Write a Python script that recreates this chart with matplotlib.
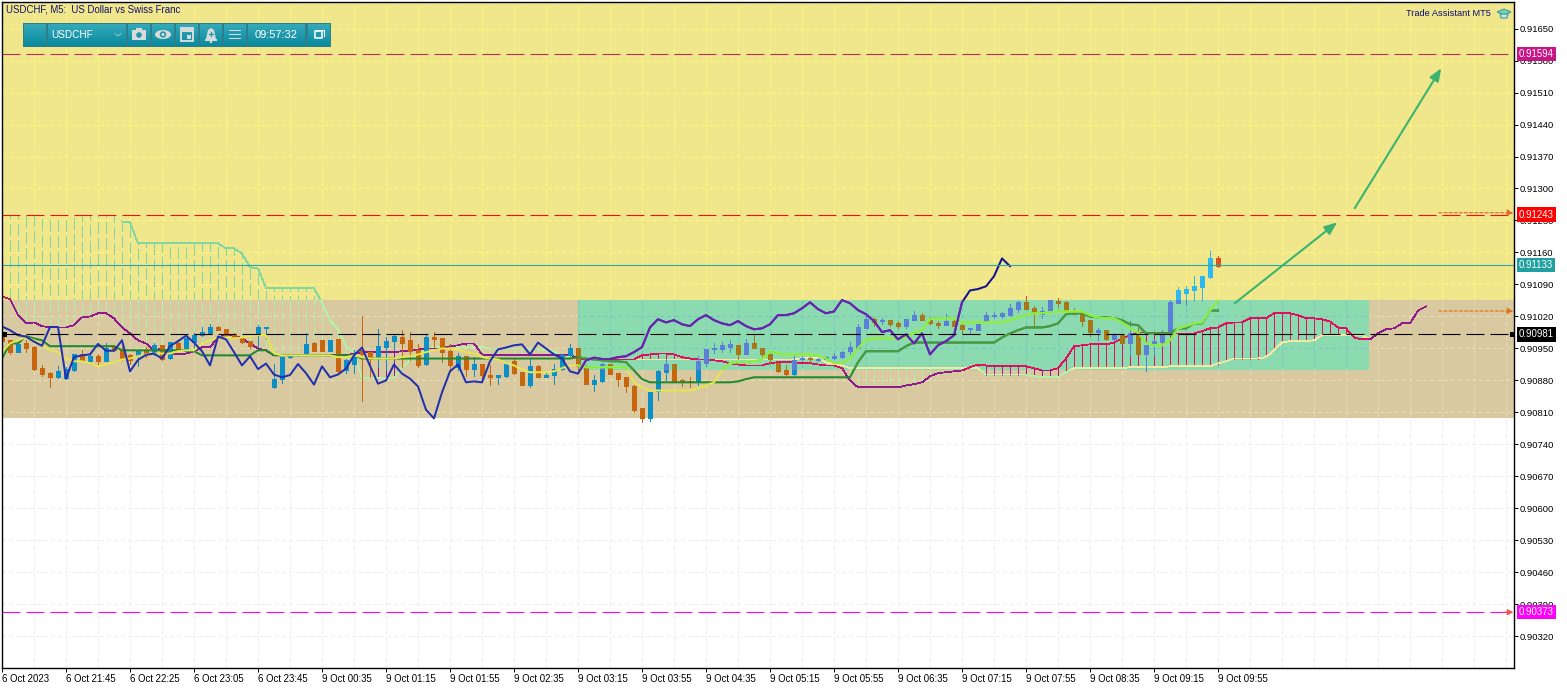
import numpy as np
import matplotlib
matplotlib.use("Agg")
import matplotlib.pyplot as plt
from matplotlib.patches import Rectangle, Circle, Ellipse, Polygon

plt.rcParams['font.family'] = ['Liberation Sans', 'DejaVu Sans']
plt.rcParams['lines.scale_dashes'] = False

# prices in 1e-5 units, one entry per 5 minute bar
opens = [90976,90968,90942,90963,90954,90907,90896,90887,90885,90903,
90938,90922,90933,90922,90954,90947,90936,90933,90945,90938,
90957,90930,90963,90945,90965,90979,90983,90998,90992,90979,
90972,90966,90982,90994,90865,90883,90931,90935,90938,90961,
90968,90945,90970,90903,90917,90947,90942,90932,90953,90966,
90976,90968,90946,90915,90976,90972,90944,90909,90933,90905,
90917,90891,90887,90889,90922,90898,90871,90911,90887,90891,
90906,90935,90952,90911,90873,90878,90915,90897,90887,90869,
90819,90797,90858,90898,90915,90882,90878,90876,90919,90948,
90948,90954,90957,90937,90963,90952,90939,90919,90902,90895,
90926,90929,90924,90927,90929,90931,90944,90950,90994,91014,
91010,91012,91005,90999,91012,91023,91013,91006,91001,91010,
91001,90992,90990,91007,91021,91021,91023,91036,91051,91038,
91025,91031,91053,91051,91031,91025,91012,90986,90990,90970,
90979,90961,90985,90937,90959,90964,90983,91049,91071,91077,
91084,91106,91147]
closes = [90967,90942,90960,90951,90905,90894,90887,90901,90905,90939,
90922,90933,90922,90950,90947,90926,90925,90945,90938,90957,
90927,90965,90947,90972,90979,90985,90998,90990,90979,90976,
90965,90956,90997,90997,90884,90931,90935,90937,90960,90945,
90945,90968,90900,90925,90936,90939,90928,90955,90966,90978,
90963,90944,90913,90976,90970,90942,90913,90933,90905,90917,
90893,90887,90892,90916,90896,90871,90911,90887,90893,90906,
90935,90952,90912,90873,90880,90915,90895,90884,90867,90816,
90797,90854,90900,90915,90876,90878,90876,90922,90948,90952,
90957,90959,90937,90963,90950,90937,90928,90900,90895,90924,
90930,90927,90927,90931,90933,90942,90953,90996,91014,91007,
91012,91003,90999,91014,91023,91012,91005,91001,91010,90999,
90992,90994,91003,91023,91023,91027,91038,91051,91036,91027,
91031,91056,91049,91034,91025,91010,90986,90990,90970,90981,
90961,90983,90937,90957,90966,90979,91051,91077,91080,91086,
91108,91147,91130]
highs = [90979,90968,90960,90968,90955,90914,90898,90911,90910,90939,
90946,90936,90939,90961,90957,90954,90939,90947,90954,90961,
90957,90965,90968,90972,90983,90998,91003,90999,90992,90983,
90973,90966,91001,90998,90917,90931,90937,90939,90983,90965,
90968,90968,90970,90926,90947,91021,90942,90992,90976,90979,
90991,90987,90959,90979,90985,90972,90959,90941,90933,90931,
90917,90913,90893,90920,90927,90898,90926,90913,90896,90917,
90937,90959,90952,90913,90893,90919,90917,90897,90887,90871,
90819,90854,90904,90926,90915,90884,90887,90933,90948,90963,
90965,90968,90957,90970,90979,90952,90939,90919,90913,90933,
90933,90931,90929,90933,90940,90944,90964,91003,91021,91018,
91016,91012,91010,91014,91031,91027,91018,91010,91026,91012,
91003,90994,91005,91029,91029,91029,91047,91054,91064,91042,
91040,91057,91060,91053,91038,91029,91012,90994,90990,90983,
90979,91010,90994,90964,90968,90990,91057,91084,91086,91108,
91108,91163,91152]
lows = [90965,90938,90942,90942,90903,90890,90866,90885,90883,90901,
90922,90920,90914,90922,90945,90925,90917,90911,90932,90936,
90925,90928,90945,90945,90947,90978,90982,90990,90976,90973,
90961,90951,90954,90970,90863,90875,90930,90933,90938,90945,
90945,90945,90898,90897,90897,90835,90888,90910,90903,90947,
90909,90924,90909,90913,90953,90920,90902,90902,90889,90889,
90876,90871,90873,90887,90895,90871,90865,90887,90887,90873,
90904,90933,90898,90873,90856,90876,90895,90869,90854,90812,
90790,90792,90838,90880,90876,90869,90865,90871,90911,90941,
90943,90943,90928,90937,90950,90933,90917,90898,90891,90893,
90923,90921,90922,90926,90927,90929,90937,90948,90994,90999,
91004,90999,90994,90994,91012,91012,91003,90994,91001,90999,
90983,90981,90990,91007,91016,91016,91021,91029,91036,90999,
91016,91031,91040,91034,91025,90999,90977,90968,90968,90968,
90961,90933,90937,90900,90935,90964,90983,91049,91045,91056,
91055,91104,91128]

tenkan = [90942,90961,90968,90974,90968,90957,90946,90942,90928,90922,
90922,90918,90911,90915,90920,90926,90928,90933,90937,90939,
90939,90939,90944,90946,90946,90961,90968,90974,90974,90972,
90974,90977,90979,90979,90939,90935,90935,90935,90935,90935,
90935,90935,90931,90931,90935,90931,90928,90928,90928,90928,
90931,90933,90937,90942,90946,90950,90950,90948,90942,90939,
90931,90928,90926,90918,90913,90904,90898,90898,90898,90900,
90907,90913,90913,90909,90909,90909,90909,90909,90909,90876,
90865,90858,90858,90858,90858,90858,90858,90863,90869,90876,
90902,90918,90920,90920,90922,90926,90944,90939,90937,90937,
90937,90937,90935,90928,90918,90918,90928,90950,90970,90972,
90972,90972,90972,90974,90985,90990,91014,91016,91016,91016,
91007,91007,91007,91007,91007,91007,91012,91018,91023,91027,
91027,91029,91031,91031,91031,91031,91023,91018,91016,91016,
91007,90994,90985,90961,90957,90957,90968,90994,90999,91005,
91007,91033,91055]
kijun = [90928,90961,90961,90977,90972,90968,90955,90955,90955,90955,
90955,90955,90955,90955,90955,90946,90946,90946,90946,90946,
90946,90946,90946,90946,90944,90935,90935,90935,90935,90935,
90935,90935,90946,90946,90935,90935,90935,90935,90935,90935,
90935,90935,90935,90935,90935,90928,90928,90928,90928,90928,
90928,90928,90928,90928,90928,90928,90928,90928,90928,90928,
90928,90928,90928,90928,90928,90928,90928,90928,90928,90928,
90928,90928,90931,90928,90926,90924,90922,90922,90920,90902,
90883,90876,90876,90876,90876,90876,90876,90876,90876,90876,
90876,90876,90878,90883,90887,90887,90887,90887,90887,90887,
90887,90887,90887,90887,90887,90887,90887,90920,90944,90944,
90944,90944,90944,90955,90963,90963,90963,90963,90963,90963,
90963,90963,90963,90963,90963,90974,90983,90990,90996,90996,
90996,90999,91005,91025,91027,91027,91020,91018,91018,91016,
91012,91003,91001,90983,90983,90983,90983,90994,90994,91005,
91005,91033,91033]
span_a = [91241,91241,91241,91241,91241,91241,91241,91241,91241,91241,
91241,91241,91241,91241,91241,91228,91226,91180,91180,91180,
91180,91180,91180,91180,91180,91180,91180,91180,91169,91169,
91158,91128,91125,91082,91082,91082,91082,91082,91082,91082,
91049,91012,90992,90955,90942,90885,90885,90885,90885,90885,
90909,90924,90937,90950,90953,90955,90955,90953,90953,90953,
90953,90950,90950,90950,90950,90950,90950,90950,90946,90944,
90935,90931,90928,90926,90926,90926,90926,90926,90926,90926,
90926,90926,90926,90926,90926,90926,90926,90926,90926,90926,
90926,90926,90926,90926,90926,90926,90926,90926,90926,90926,
90929,90929,90929,90920,90915,90913,90907,90907,90907,90907,
90907,90907,90907,90907,90907,90907,90907,90907,90907,90907,
90907,90907,90907,90893,90893,90893,90893,90893,90893,90889,
90887,90887,90887,90898,90907,90907,90907,90907,90907,90907,
90907,90909,90909,90909,90909,90909,90911,90911,90911,90911,
90911,90911,90917,90922,90928,90928,90928,90928,90931,90946,
90963,90966,90966,90966,90968,90979,90979,90979,90979,90979,
90979,90970,90983,90992,90994,91005,91005,91033,91042]
span_b = [91064,91058,91023,91005,91007,90999,90996,90996,90996,91001,
91018,91020,91027,91027,91016,90996,90983,90968,90961,90946,
90950,90939,90937,90939,90944,90953,90953,90974,90979,90979,
90972,90961,90950,90946,90935,90935,90935,90935,90935,90935,
90935,90935,90935,90935,90939,90942,90942,90942,90942,90942,
90944,90944,90948,90950,90950,90950,90955,90957,90961,90961,
90937,90935,90935,90935,90935,90935,90935,90935,90935,90935,
90935,90937,90928,90926,90926,90926,90926,90926,90926,90926,
90935,90937,90939,90939,90937,90931,90928,90926,90926,90924,
90922,90918,90915,90913,90913,90913,90918,90920,90920,90920,
90918,90918,90915,90913,90913,90907,90880,90865,90865,90865,
90865,90865,90865,90869,90872,90876,90889,90896,90898,90900,
90902,90909,90915,90913,90911,90911,90911,90911,90911,90907,
90902,90902,90907,90928,90955,90957,90959,90959,90959,90963,
90972,90979,90985,90985,90985,90985,90983,90983,90983,90983,
90988,90994,90996,91005,91007,91007,91016,91016,91016,91027,
91027,91027,91023,91016,91016,91014,91009,90996,90994,90974,
90970,90970,90983,90992,90994,91005,91005,91033,91042]

time_labels = ['6 Oct 2023','6 Oct 21:45','6 Oct 22:25','6 Oct 23:05','6 Oct 23:45',
               '9 Oct 00:35','9 Oct 01:15','9 Oct 01:55','9 Oct 02:35','9 Oct 03:15',
               '9 Oct 03:55','9 Oct 04:35','9 Oct 05:15','9 Oct 05:55','9 Oct 06:35',
               '9 Oct 07:15','9 Oct 07:55','9 Oct 08:35','9 Oct 09:15','9 Oct 09:55']
price_ticks = [91650,91580,91510,91440,91370,91300,91230,91160,91090,91020,
               90950,90880,90810,90740,90670,90600,90530,90460,90390,90320]

level_top = 91594
level_red = 91243
level_bid = 91133
level_black = 90981
level_magenta = 90373
zone_high = 91056
zone_low = 90797
rect_low = 90903
rect_start = 72
rect_end = 170.9

PX = 0.72  # one pixel in points at dpi 100
y_min, y_max = 90251, 91708
x_max = 189

fig = plt.figure(figsize=(15.67, 6.89), dpi=100, facecolor='white')
ax = fig.add_axes([2/1567, (689-668)/689, 1512/1567, 666/689])
ax.set_xlim(0, x_max)
ax.set_ylim(y_min, y_max)

# background blocks
ax.add_patch(Rectangle((0, zone_low), x_max, zone_high-zone_low, color='#D9C9A0', lw=0, zorder=0))
ax.add_patch(Rectangle((0, zone_high), x_max, y_max-zone_high, color='#F0E68C', lw=0, zorder=0))
ax.add_patch(Rectangle((rect_start, rect_low), rect_end-rect_start, zone_high-rect_low, color='#8CDBB0', lw=0, zorder=0.1))

# marks change colour with the block behind them, so each is drawn once per block
clip_low = Rectangle((0, y_min), x_max, zone_high-y_min, transform=ax.transData)
clip_tan = Rectangle((0, zone_low), x_max, zone_high-zone_low, transform=ax.transData)
clip_high = Rectangle((0, zone_high), x_max, y_max-zone_high, transform=ax.transData)
clip_rect = Rectangle((rect_start, rect_low), rect_end-rect_start, zone_high-rect_low, transform=ax.transData)
clips = [clip_low, clip_high, clip_rect]
grid_clips = [clip_tan, clip_high, clip_rect]

bars = np.arange(len(closes))
o = np.array(opens)
c = np.array(closes)
h = np.array(highs)
l = np.array(lows)
up = c >= o
body_top = np.maximum(o, c)
body_bot = np.minimum(o, c)
cloud_x = np.arange(len(span_a))
a = np.array(span_a, dtype=float)
b = np.array(span_b, dtype=float)
# the top edge of the cloud is not drawn while it sits flat on the red level
a_edge = a.copy()
a_edge[:15] = np.nan

grid_dash = (0, (2.88, 2.88))
hatch_dash = (0, (8.0, 3.0))
grid_cols = ['#E6DDB0', '#FFFB78', '#76C6C4']
up_cols = ['#0A8FC8', '#2DB8F0', '#5A80D8']
down_cols = ['#C8660F', '#E0501E', '#A87818']
hatch_up_cols = ['#B0F0A8', '#80D8A0', '#A8F0A0']
hatch_dn_cols = ['#8E1A8E', '#B02060', '#E01060']
a_cols = ['#B4F0A8', '#80D8A0', '#F5E8A0']
b_cols = ['#8E1A8E', '#B02060', '#E01060']
tenkan_cols = ['#E6E650', '#A8E040', '#80F040']
kijun_cols = ['#208830', '#4A9A40', '#4A9A40']
chikou_cols = ['#2030B0', '#101090', '#7020B0']

# grid on the white part
for v in price_ticks:
    ax.axhline(v, color='#EEEEEE', lw=PX, ls=grid_dash, zorder=0.05, antialiased=False)
for v in np.arange(0, x_max, 4):
    ax.axvline(v, color='#EEEEEE', lw=PX, ls=grid_dash, zorder=0.05, antialiased=False)

for k, clip in enumerate(clips):
    z = k * 0.01
    grid_arts = []
    for v in price_ticks:
        grid_arts.append(ax.axhline(v, color=grid_cols[k], lw=PX, ls=grid_dash, zorder=1+z, antialiased=False))
    for v in np.arange(0, x_max, 4):
        grid_arts.append(ax.axvline(v, color=grid_cols[k], lw=PX, ls=grid_dash, zorder=1+z, antialiased=False))
    for art in grid_arts:
        art.set_clip_path(grid_clips[k])

    arts = []
    # ichimoku cloud
    above = a > b
    arts.append(ax.vlines(cloud_x[above], b[above], a[above], color=hatch_up_cols[k], lw=PX,
                          linestyles=[hatch_dash], zorder=3+z, antialiased=False))
    arts.append(ax.vlines(cloud_x[~above], a[~above], b[~above], color=hatch_dn_cols[k], lw=PX, zorder=3+z, antialiased=False))
    arts += ax.plot(cloud_x, a_edge, color=a_cols[k], lw=0.55, zorder=3.1+z, antialiased=False)
    arts += ax.plot(cloud_x, b, color=b_cols[k], lw=0.55, zorder=3.1+z, antialiased=False)

    # candles
    arts.append(ax.vlines(bars[up], l[up], h[up], color=up_cols[k], lw=PX, zorder=4+z, antialiased=False))
    arts.append(ax.vlines(bars[~up], l[~up], h[~up], color=down_cols[k], lw=PX, zorder=4+z, antialiased=False))
    arts.append(ax.vlines(bars[up], body_bot[up], body_top[up], color=up_cols[k], lw=5*PX, zorder=4.1+z, antialiased=False))
    arts.append(ax.vlines(bars[~up], body_bot[~up], body_top[~up], color=down_cols[k], lw=5*PX, zorder=4.1+z, antialiased=False))

    # indicator lines
    arts += ax.plot(bars, kijun, color=kijun_cols[k], lw=2*PX, zorder=5+z)
    arts += ax.plot(bars, tenkan, color=tenkan_cols[k], lw=2*PX, zorder=5.5+z)
    # lagging span is the close moved back 26 bars
    arts += ax.plot(bars[:-26], closes[26:], color=chikou_cols[k], lw=2*PX, zorder=6+z)

    for art in arts:
        art.set_clip_path(clip)

# price levels
level_dash = (0, (18*PX, 6*PX))
ax.axhline(level_top, color='#B82C5A', lw=0.8, ls=level_dash, zorder=7)
ax.axhline(level_red, color='#F01010', lw=0.8, ls=level_dash, zorder=7)
ax.axhline(level_bid, color='#2AA8A8', lw=0.8, zorder=7)
ax.axhline(level_black, color='black', lw=0.8, ls=level_dash, zorder=7)
ax.axhline(level_magenta, color='#FF00FF', lw=0.8, ls=level_dash, zorder=7)

# hand drawn arrows
arrow_x = [[154.1, 166.9], [169.1, 179.9]]
arrow_y = [[91049, 91226], [91257, 91563]]
for xs, ys in zip(arrow_x, arrow_y):
    ax.annotate('', xy=(xs[1], ys[1]), xytext=(xs[0], ys[0]), zorder=8,
                arrowprops=dict(arrowstyle='-|>,head_length=0.75,head_width=0.3', color='#3CB371', lw=1.5,
                                shrinkA=0, shrinkB=0))

# dotted target arrows at the right edge
target_y = [91247, 91032]
target_cols = ['#E8602A', '#E07010']
for ty, col in zip(target_y, target_cols):
    ax.annotate('', xy=(188.9, ty), xytext=(179.6, ty), zorder=8,
                arrowprops=dict(arrowstyle='-|>,head_length=0.35,head_width=0.18', color=col, lw=0.8,
                                ls=(0, (2.2, 1.5)), shrinkA=0, shrinkB=0))
ax.annotate('', xy=(188.9, level_magenta), xytext=(187.6, level_magenta), zorder=8,
            arrowprops=dict(arrowstyle='-|>,head_length=0.35,head_width=0.18', color='#F05050', lw=PX,
                            shrinkA=0, shrinkB=0))

# axes
for s in ax.spines.values():
    s.set_linewidth(1.0)
    s.set_zorder(9)
ax.yaxis.tick_right()
ax.set_yticks(price_ticks)
ax.set_yticklabels(['%.5f' % (v/1e5) for v in price_ticks], fontsize=6.8)
ax.tick_params(axis='y', length=3, width=PX, pad=1)
ax.set_xticks(np.arange(0, len(time_labels)*8, 8))
ax.set_xticklabels(time_labels, fontsize=6.9, ha='left')
ax.tick_params(axis='x', length=3, width=PX, pad=1.5)

# price tags
tag_vals = [level_top, level_red, level_bid, level_black, level_magenta]
tag_cols = ['#C71585', '#FF0000', '#20A0A0', '#000000', '#FF00FF']
for v, col in zip(tag_vals, tag_cols):
    ax.text(1.0033, v, '%.5f' % (v/1e5), transform=ax.get_yaxis_transform(), fontsize=6.9, color='white',
            va='center', ha='left', clip_on=False, zorder=20,
            bbox=dict(facecolor=col, edgecolor='none', pad=1.6))

# overlay in pixels for the terminal furniture
ov = fig.add_axes([0, 0, 1, 1], facecolor='none', zorder=10)
ov.axis('off')

ov.add_patch(Rectangle((1510, 331.5), 4, 5, color='black', lw=0))
ov.add_patch(Rectangle((2, 331.5), 5, 5, color='black', lw=0))

ov.text(6.5, 9, 'USDCHF, M5:  US Dollar vs Swiss Franc', fontsize=6.9, color='#101070', va='center', ha='left')
ov.text(1491, 13.5, 'Trade Assistant MT5', fontsize=6.65, color='#101070', va='center', ha='right')
ov.add_patch(Polygon([[1497, 12], [1504, 9], [1511, 12], [1504, 15]], fc='#7ED39B', ec='#2C8FC0', lw=0.7))
ov.add_patch(Polygon([[1500, 14], [1508, 14], [1507, 18], [1501, 18]], fc='#BFE8C8', ec='#2C8FC0', lw=0.7))

grad = np.linspace(0, 1, 24).reshape(-1, 1)
cmap = matplotlib.colors.LinearSegmentedColormap.from_list('tb', ['#35A9BA', '#0A8A9E'])
ov.add_patch(Rectangle((23, 23), 308, 24, color='#2D7F8C', lw=0))
cells = [(24, 46), (48, 126), (128, 150), (152, 174), (176, 198), (200, 222), (224, 246), (248, 305), (308, 330)]
for x0, x1 in cells:
    ov.imshow(grad, extent=(x0, x1, 46, 24), cmap=cmap, aspect='auto', zorder=1)
ov.text(51, 34.5, 'USDCHF', fontsize=7.2, color='white', va='center', ha='left', zorder=3)
ov.text(276.5, 34.5, '09:57:32', fontsize=8.0, color='white', va='center', ha='center', zorder=3)
ov.plot([115, 118, 121], [33.5, 36, 33.5], color='#7FC4CE', lw=0.8, zorder=3)
ic = '#DADADA'
# camera
ov.add_patch(Rectangle((132, 30), 14, 10, color=ic, lw=0, zorder=3))
ov.add_patch(Rectangle((136, 28), 6, 3, color=ic, lw=0, zorder=3))
ov.add_patch(Circle((139, 35), 2.8, fc='#1E97A9', ec='none', zorder=4))
# eye
ov.add_patch(Ellipse((163, 34.5), 16, 9, color=ic, lw=0, zorder=3))
ov.add_patch(Circle((163, 34.5), 3.2, fc='#1E97A9', ec='none', zorder=4))
ov.add_patch(Circle((163, 34.5), 1.6, fc=ic, ec='none', zorder=5))
# calendar
ov.add_patch(Rectangle((181, 28), 12, 13, fc='none', ec=ic, lw=1.4, zorder=3))
ov.add_patch(Rectangle((181, 28), 12, 3.5, color=ic, lw=0, zorder=3))
ov.add_patch(Rectangle((187, 35), 4, 4, color=ic, lw=0, zorder=3))
# bell
ov.add_patch(Polygon([[206, 39], [208, 30], [211, 28], [214, 30], [216, 39]], color=ic, lw=0, zorder=3))
ov.add_patch(Rectangle((205, 39), 12, 1.5, color=ic, lw=0, zorder=3))
ov.add_patch(Circle((211, 42), 1.2, color=ic, lw=0, zorder=3))
ov.plot([209, 213], [33.5, 33.5], color='#1E97A9', lw=0.9, zorder=4)
ov.plot([211, 211], [31.5, 35.5], color='#1E97A9', lw=0.9, zorder=4)
# menu
for yy in [30.5, 34.5, 38.5]:
    ov.add_patch(Rectangle((229, yy-0.8), 12, 1.7, color=ic, lw=0, zorder=3))
# restore
ov.add_patch(Rectangle((315, 31), 7, 7, fc='none', ec='white', lw=1.1, zorder=3))
ov.plot([316.5, 316.5, 323.5, 323.5], [31, 29.8, 29.8, 36], color='white', lw=0.8, zorder=3)

ov.set_xlim(0, 1567)
ov.set_ylim(689, 0)

plt.savefig('out.png', dpi=100)
